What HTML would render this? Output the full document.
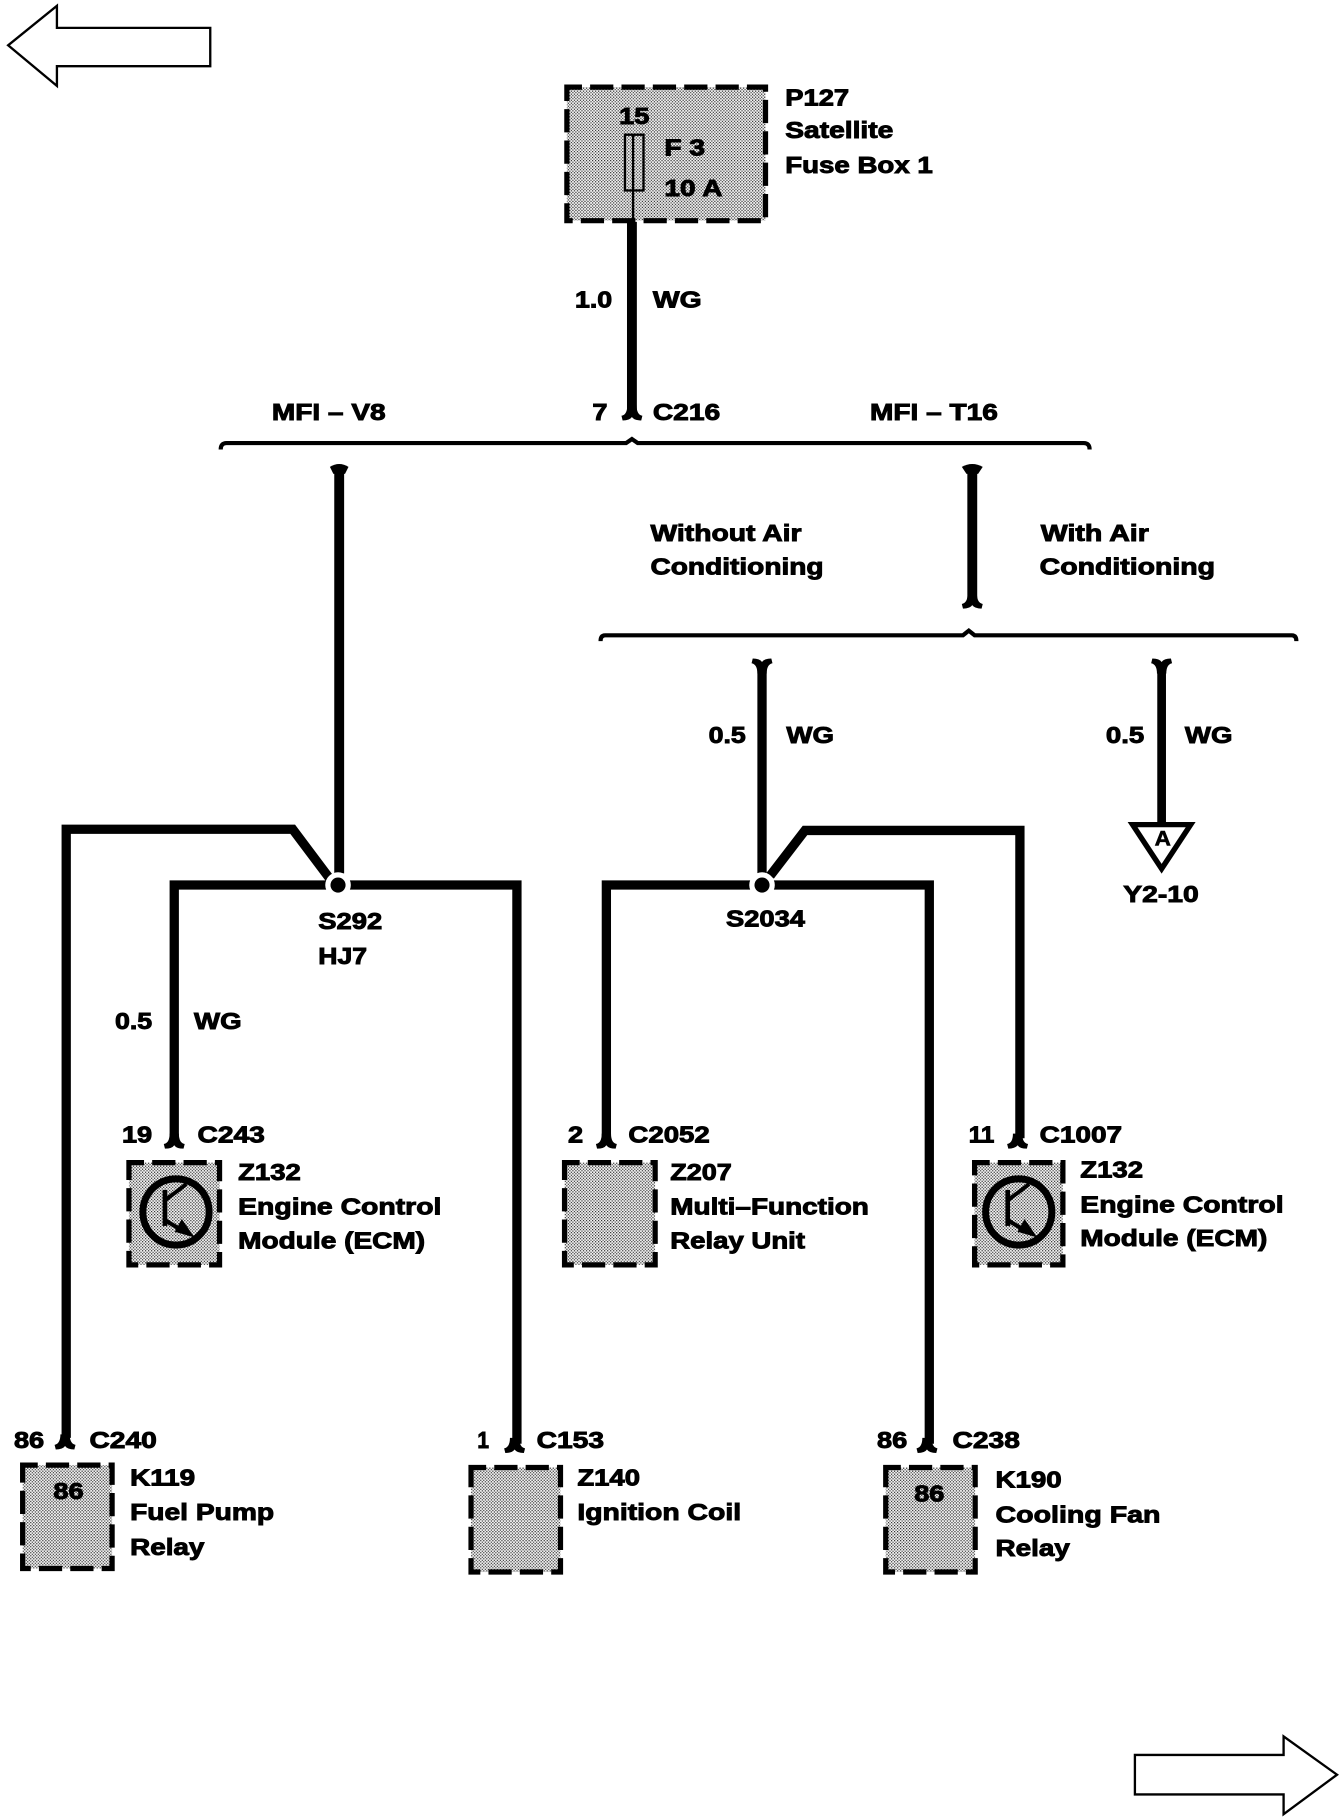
<!DOCTYPE html>
<html><head><meta charset="utf-8">
<style>
html,body{margin:0;padding:0;background:#fff;width:1344px;height:1820px;overflow:hidden}
svg{display:block}
text{font-family:"Liberation Sans",sans-serif;font-weight:700;font-size:20px;fill:#000;stroke:#000;stroke-width:.8}
.d{fill:url(#dot);stroke:#000;stroke-width:4.5;stroke-dasharray:20 7;stroke-dashoffset:7}
.w{fill:none;stroke:#000;stroke-linejoin:miter}
</style></head><body>
<svg xmlns="http://www.w3.org/2000/svg" width="1344" height="1820" viewBox="0 0 1157 1567" preserveAspectRatio="none">
<defs>
<pattern id="dot" width="2.6" height="2.6" patternUnits="userSpaceOnUse">
<rect width="2.6" height="2.6" fill="#f4f4f4"/>
<rect width="1" height="1" fill="#222"/><rect x="1.3" y="1.3" width="1" height="1" fill="#222"/>
</pattern>
<path id="fd" d="M-9 1 Q-4 0 -4 -8 L4 -8 Q4 0 9 1 L8 5 Q2 5 0 2 Q-2 5 -8 5 Z"/>
<g id="tr">
<circle cx="0" cy="0" r="28.5" fill="none" stroke="#000" stroke-width="6"/>
<path d="M-9.5 -19 V12" stroke="#000" stroke-width="4" fill="none"/>
<path d="M-9.5 -10 L9 -24" stroke="#000" stroke-width="3.4" fill="none"/>
<path d="M-9.5 7 L2 14" stroke="#000" stroke-width="3.6" fill="none"/>
<path d="M5 6 L16 22 L-1 17 Z" fill="#000"/>
</g>
</defs>
<rect width="1157" height="1567" fill="#fff"/>

<!-- page arrows -->
<polygon points="7,39 49,5 49,24 181,24 181,57 49,57 49,74" fill="#fff" stroke="#000" stroke-width="2"/>
<polygon points="977,1511 1105,1511 1105,1495 1151,1528 1105,1562 1105,1545 977,1545" fill="#fff" stroke="#000" stroke-width="2"/>

<!-- boxes -->
<rect class="d" x="488" y="75" width="171" height="115"/>
<rect class="d" x="111" y="1001" width="78" height="88"/>
<rect class="d" x="486" y="1001" width="78" height="88"/>
<rect class="d" x="839" y="1001" width="76" height="88"/>
<rect class="d" x="19.5" y="1261.5" width="77" height="89"/>
<rect class="d" x="405.5" y="1263.5" width="77" height="90"/>
<rect class="d" x="762.5" y="1263.5" width="77" height="90"/>

<!-- fuse -->
<rect x="538" y="116" width="16" height="48" fill="none" stroke="#000" stroke-width="2"/>
<path d="M545 116 V191" stroke="#000" stroke-width="2" fill="none"/>

<!-- wires -->
<path class="w" stroke-width="8.5" d="M544 191 V356"/>
<use href="#fd" x="544" y="357"/>
<path class="w" stroke-width="3.6" d="M190 387 Q190 381.5 195 381.5 H539 L544 378 L549 381.5 H933 Q938 381.5 938 387"/>
<path class="w" stroke-width="8.5" d="M292 403 V752"/>
<path d="M284 402 Q292 397 300 402 L297 408 H287 Z"/>
<path class="w" stroke-width="8.5" d="M837 403 V518"/>
<path d="M828 402 Q837 397 846 402 L842 408 H832 Z"/>
<use href="#fd" x="837" y="519"/>
<path class="w" stroke-width="3.6" d="M517 552 Q517 547 521 547 H829 L834 543 L839 547 H1112 Q1116 547 1116 552"/>
<path class="w" stroke-width="8" d="M656 574 V752"/>
<use href="#fd" transform="translate(656 572) scale(1 -1)"/>
<path class="w" stroke-width="7.5" d="M1000 574 V712"/>
<use href="#fd" transform="translate(1000 572) scale(1 -1)"/>
<polygon points="975,710 1025,710 1000,748" fill="#fff" stroke="#000" stroke-width="4.6"/>

<!-- S292 -->
<path class="w" stroke-width="8" d="M150 980 V762 H445 V1243"/>
<path class="w" stroke-width="8" d="M285 758 L252 714 H57 V1238"/>
<circle cx="291" cy="762" r="11" fill="#fff"/><circle cx="291" cy="762" r="6.5"/>
<use href="#fd" x="150" y="984"/>
<use href="#fd" x="56" y="1243"/>
<use href="#fd" x="443" y="1246"/>

<!-- S2034 -->
<path class="w" stroke-width="8" d="M522 980 V762 H800 V1243"/>
<path class="w" stroke-width="8" d="M663 754 L693 715 H878 V980"/>
<circle cx="656" cy="762" r="11" fill="#fff"/><circle cx="656" cy="762" r="6.5"/>
<use href="#fd" x="522" y="984"/>
<use href="#fd" x="876" y="984"/>
<use href="#fd" x="798" y="1246"/>

<!-- transistors -->
<use href="#tr" x="151.5" y="1043.5"/>
<use href="#tr" x="877" y="1043.5"/>

<!-- text -->
<g transform="translate(0 -1.2)">
<text x="676" y="92" textLength="55" lengthAdjust="spacingAndGlyphs">P127</text>
<text x="676" y="120" textLength="93" lengthAdjust="spacingAndGlyphs">Satellite</text>
<text x="676" y="150" textLength="127" lengthAdjust="spacingAndGlyphs">Fuse Box 1</text>
<text x="533" y="108" textLength="26" lengthAdjust="spacingAndGlyphs">15</text>
<text x="572" y="135" textLength="35" lengthAdjust="spacingAndGlyphs">F 3</text>
<text x="572" y="170" textLength="50" lengthAdjust="spacingAndGlyphs">10 A</text>
<text x="495" y="266" textLength="32" lengthAdjust="spacingAndGlyphs">1.0</text>
<text x="562" y="266" textLength="42" lengthAdjust="spacingAndGlyphs">WG</text>
<text x="234" y="363" textLength="98" lengthAdjust="spacingAndGlyphs">MFI – V8</text>
<text x="510" y="363" textLength="13" lengthAdjust="spacingAndGlyphs">7</text>
<text x="562" y="363" textLength="58" lengthAdjust="spacingAndGlyphs">C216</text>
<text x="749" y="363" textLength="110" lengthAdjust="spacingAndGlyphs">MFI – T16</text>
<text x="560" y="467" textLength="130" lengthAdjust="spacingAndGlyphs">Without Air</text>
<text x="560" y="496" textLength="149" lengthAdjust="spacingAndGlyphs">Conditioning</text>
<text x="896" y="467" textLength="93" lengthAdjust="spacingAndGlyphs">With Air</text>
<text x="895" y="496" textLength="151" lengthAdjust="spacingAndGlyphs">Conditioning</text>
<text x="610" y="641" textLength="32" lengthAdjust="spacingAndGlyphs">0.5</text>
<text x="677" y="641" textLength="41" lengthAdjust="spacingAndGlyphs">WG</text>
<text x="952" y="641" textLength="33" lengthAdjust="spacingAndGlyphs">0.5</text>
<text x="1020" y="641" textLength="41" lengthAdjust="spacingAndGlyphs">WG</text>
<text x="994" y="729" style="font-size:18px;stroke-width:.5" textLength="14" lengthAdjust="spacingAndGlyphs">A</text>
<text x="967" y="778" textLength="65" lengthAdjust="spacingAndGlyphs">Y2-10</text>
<text x="274" y="801" textLength="55" lengthAdjust="spacingAndGlyphs">S292</text>
<text x="274" y="831" textLength="42" lengthAdjust="spacingAndGlyphs">HJ7</text>
<text x="625" y="799" textLength="68" lengthAdjust="spacingAndGlyphs">S2034</text>
<text x="99" y="887" textLength="32" lengthAdjust="spacingAndGlyphs">0.5</text>
<text x="167" y="887" textLength="41" lengthAdjust="spacingAndGlyphs">WG</text>
<text x="105" y="985" textLength="26" lengthAdjust="spacingAndGlyphs">19</text>
<text x="170" y="985" textLength="58" lengthAdjust="spacingAndGlyphs">C243</text>
<text x="489" y="985" textLength="13" lengthAdjust="spacingAndGlyphs">2</text>
<text x="541" y="985" textLength="70" lengthAdjust="spacingAndGlyphs">C2052</text>
<text x="834" y="985" textLength="22" lengthAdjust="spacingAndGlyphs">11</text>
<text x="895" y="985" textLength="71" lengthAdjust="spacingAndGlyphs">C1007</text>
<text x="205" y="1017" textLength="54" lengthAdjust="spacingAndGlyphs">Z132</text>
<text x="205" y="1047" textLength="175" lengthAdjust="spacingAndGlyphs">Engine Control</text>
<text x="205" y="1076" textLength="161" lengthAdjust="spacingAndGlyphs">Module (ECM)</text>
<text x="577" y="1017" textLength="53" lengthAdjust="spacingAndGlyphs">Z207</text>
<text x="577" y="1047" textLength="171" lengthAdjust="spacingAndGlyphs">Multi–Function</text>
<text x="577" y="1076" textLength="116" lengthAdjust="spacingAndGlyphs">Relay Unit</text>
<text x="930" y="1015" textLength="54" lengthAdjust="spacingAndGlyphs">Z132</text>
<text x="930" y="1045" textLength="175" lengthAdjust="spacingAndGlyphs">Engine Control</text>
<text x="930" y="1074" textLength="161" lengthAdjust="spacingAndGlyphs">Module (ECM)</text>
<text x="12" y="1248" textLength="26" lengthAdjust="spacingAndGlyphs">86</text>
<text x="77" y="1248" textLength="58" lengthAdjust="spacingAndGlyphs">C240</text>
<text x="411" y="1248" textLength="10" lengthAdjust="spacingAndGlyphs">1</text>
<text x="462" y="1248" textLength="58" lengthAdjust="spacingAndGlyphs">C153</text>
<text x="755" y="1248" textLength="26" lengthAdjust="spacingAndGlyphs">86</text>
<text x="820" y="1248" textLength="58" lengthAdjust="spacingAndGlyphs">C238</text>
<text x="46" y="1292" textLength="26" lengthAdjust="spacingAndGlyphs">86</text>
<text x="112" y="1280" textLength="56" lengthAdjust="spacingAndGlyphs">K119</text>
<text x="112" y="1310" textLength="124" lengthAdjust="spacingAndGlyphs">Fuel Pump</text>
<text x="112" y="1340" textLength="64" lengthAdjust="spacingAndGlyphs">Relay</text>
<text x="497" y="1280" textLength="54" lengthAdjust="spacingAndGlyphs">Z140</text>
<text x="497" y="1310" textLength="141" lengthAdjust="spacingAndGlyphs">Ignition Coil</text>
<text x="787" y="1294" textLength="26" lengthAdjust="spacingAndGlyphs">86</text>
<text x="857" y="1282" textLength="57" lengthAdjust="spacingAndGlyphs">K190</text>
<text x="857" y="1312" textLength="142" lengthAdjust="spacingAndGlyphs">Cooling Fan</text>
<text x="857" y="1341" textLength="64" lengthAdjust="spacingAndGlyphs">Relay</text>
</g>
</svg>
</body></html>
